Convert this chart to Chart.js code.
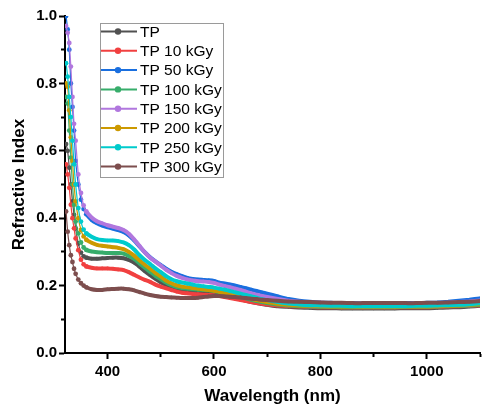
<!DOCTYPE html>
<html>
<head>
<meta charset="utf-8">
<script src="https://cdn.jsdelivr.net/npm/chart.js@4.4.1/dist/chart.umd.min.js"></script>
<style>
  html, body { margin: 0; padding: 0; background: #fff; }
  canvas { display: block; }
</style>
</head>
<body>
<canvas id="ri-chart" width="484" height="405"></canvas>
<script>
// wavelength (nm) - denser sampling on the steep absorption edge
var wavelength = [
    322, 325, 328, 331, 334, 337, 340, 345, 350, 355, 360,
    370, 380, 390, 400, 410, 420, 430, 440, 450, 460,
    470, 480, 490, 500, 510, 520, 530, 540, 550, 560,
    570, 580, 590, 600, 610, 620, 630, 640, 650, 660,
    670, 680, 690, 700,
    720, 740, 760, 780, 800, 820, 840, 860, 880, 900,
    920, 940, 960, 980, 1000, 1020, 1040, 1060, 1080, 1100
];

var labels = ["TP", "TP 10 kGy", "TP 50 kGy", "TP 100 kGy", "TP 150 kGy", "TP 200 kGy", "TP 250 kGy", "TP 300 kGy"];
var colors = ["#515151", "#F14040", "#1A6FDF", "#37AD6B", "#B177DE", "#CC9900", "#00CBCC", "#7D4E4E"];

var tp = [
    0.62, 0.60, 0.55, 0.50, 0.45, 0.41, 0.37, 0.325, 0.298, 0.287, 0.283,
    0.280, 0.280, 0.281, 0.282, 0.283, 0.283, 0.281, 0.276, 0.268, 0.256,
    0.243, 0.231, 0.220, 0.210, 0.202, 0.195, 0.190, 0.187, 0.185, 0.183,
    0.182, 0.181, 0.180, 0.178, 0.175, 0.171, 0.167, 0.163, 0.159, 0.155,
    0.151, 0.148, 0.145, 0.143,
    0.139, 0.137, 0.135, 0.134, 0.133, 0.133, 0.132, 0.132, 0.132, 0.132,
    0.132, 0.132, 0.133, 0.133, 0.133, 0.134, 0.135, 0.136, 0.138, 0.140
];
var tp10 = [
    0.56, 0.53, 0.49, 0.44, 0.40, 0.37, 0.34, 0.305, 0.277, 0.263, 0.257,
    0.253, 0.251, 0.251, 0.251, 0.250, 0.248, 0.246, 0.240, 0.232, 0.224,
    0.217, 0.211, 0.203, 0.197, 0.192, 0.187, 0.182, 0.179, 0.177, 0.175,
    0.174, 0.173, 0.172, 0.171, 0.169, 0.166, 0.163, 0.160, 0.157, 0.154,
    0.151, 0.148, 0.146, 0.144,
    0.141, 0.139, 0.138, 0.137, 0.136, 0.136, 0.135, 0.135, 0.135, 0.135,
    0.135, 0.135, 0.136, 0.136, 0.136, 0.137, 0.138, 0.139, 0.140, 0.142
];
var tp50 = [
    1.00, 0.96, 0.90, 0.80, 0.73, 0.66, 0.57, 0.50, 0.455, 0.427, 0.412,
    0.395, 0.385, 0.378, 0.373, 0.369, 0.365, 0.359, 0.349, 0.334, 0.316,
    0.299, 0.284, 0.272, 0.261, 0.250, 0.241, 0.234, 0.228, 0.223, 0.220,
    0.218, 0.217, 0.216, 0.214, 0.209, 0.206, 0.203, 0.200, 0.196, 0.192,
    0.188, 0.184, 0.180, 0.176,
    0.168, 0.160, 0.155, 0.152, 0.150, 0.149, 0.148, 0.148, 0.147, 0.147,
    0.147, 0.147, 0.148, 0.148, 0.149, 0.150, 0.152, 0.155, 0.158, 0.162
];
var tp100 = [
    0.76, 0.74, 0.66, 0.58, 0.50, 0.44, 0.39, 0.355, 0.328, 0.313, 0.306,
    0.301, 0.299, 0.298, 0.297, 0.297, 0.297, 0.295, 0.288, 0.279, 0.266,
    0.253, 0.241, 0.229, 0.219, 0.209, 0.201, 0.196, 0.193, 0.191, 0.189,
    0.188, 0.187, 0.186, 0.184, 0.181, 0.178, 0.174, 0.170, 0.166, 0.162,
    0.158, 0.154, 0.151, 0.148,
    0.144, 0.141, 0.139, 0.138, 0.137, 0.137, 0.136, 0.136, 0.136, 0.136,
    0.136, 0.136, 0.137, 0.137, 0.137, 0.138, 0.139, 0.140, 0.141, 0.143
];
var tp150 = [
    0.97, 0.95, 0.92, 0.85, 0.76, 0.68, 0.63, 0.53, 0.475, 0.438, 0.420,
    0.402, 0.391, 0.385, 0.379, 0.375, 0.371, 0.365, 0.354, 0.337, 0.318,
    0.299, 0.283, 0.271, 0.259, 0.247, 0.237, 0.229, 0.223, 0.218, 0.215,
    0.213, 0.212, 0.211, 0.208, 0.203, 0.199, 0.195, 0.191, 0.187, 0.182,
    0.177, 0.173, 0.169, 0.166,
    0.160, 0.155, 0.152, 0.150, 0.149, 0.148, 0.147, 0.147, 0.146, 0.146,
    0.146, 0.146, 0.146, 0.147, 0.147, 0.148, 0.149, 0.151, 0.153, 0.156
];
var tp200 = [
    0.80, 0.79, 0.72, 0.64, 0.57, 0.50, 0.45, 0.40, 0.365, 0.346, 0.336,
    0.327, 0.321, 0.318, 0.316, 0.314, 0.312, 0.308, 0.300, 0.289, 0.275,
    0.262, 0.250, 0.238, 0.227, 0.215, 0.207, 0.201, 0.197, 0.195, 0.193,
    0.191, 0.189, 0.187, 0.185, 0.182, 0.179, 0.176, 0.172, 0.168, 0.165,
    0.161, 0.157, 0.154, 0.151,
    0.146, 0.143, 0.141, 0.140, 0.139, 0.138, 0.138, 0.138, 0.137, 0.137,
    0.137, 0.137, 0.138, 0.138, 0.138, 0.139, 0.140, 0.141, 0.143, 0.145
];
var tp250 = [
    0.86, 0.82, 0.76, 0.70, 0.63, 0.56, 0.50, 0.43, 0.39, 0.366, 0.355,
    0.345, 0.338, 0.335, 0.334, 0.334, 0.332, 0.328, 0.320, 0.307, 0.290,
    0.276, 0.264, 0.251, 0.240, 0.228, 0.219, 0.213, 0.209, 0.206, 0.203,
    0.200, 0.198, 0.196, 0.194, 0.191, 0.188, 0.184, 0.180, 0.176, 0.172,
    0.168, 0.164, 0.160, 0.157,
    0.151, 0.147, 0.144, 0.142, 0.141, 0.140, 0.140, 0.139, 0.139, 0.139,
    0.139, 0.139, 0.139, 0.140, 0.140, 0.141, 0.142, 0.143, 0.145, 0.148
];
var tp300 = [
    0.42, 0.36, 0.32, 0.29, 0.27, 0.25, 0.235, 0.218, 0.207, 0.200, 0.195,
    0.189, 0.187, 0.187, 0.189, 0.190, 0.191, 0.191, 0.189, 0.186, 0.181,
    0.176, 0.172, 0.169, 0.167, 0.166, 0.165, 0.164, 0.163, 0.163, 0.163,
    0.164, 0.166, 0.168, 0.169, 0.169, 0.168, 0.167, 0.166, 0.165, 0.163,
    0.161, 0.160, 0.158, 0.157,
    0.155, 0.153, 0.152, 0.151, 0.150, 0.149, 0.149, 0.148, 0.148, 0.148,
    0.148, 0.148, 0.148, 0.148, 0.149, 0.149, 0.150, 0.151, 0.152, 0.154
];

var xTicks = [400, 500, 600, 700, 800, 900, 1000, 1100];
var yTicks = [0, 0.1, 0.2, 0.3, 0.4, 0.5, 0.6, 0.7, 0.8, 0.9, 1.0];

var series = [tp, tp10, tp50, tp100, tp150, tp200, tp250, tp300];

var datasets = series.map(function (values, i) {
    return {
        label: labels[i],
        data: values.map(function (v, j) { return { x: wavelength[j], y: v }; }),
        borderColor: colors[i],
        backgroundColor: colors[i],
        // later doses sit on top, like the original plot order
        order: series.length - i,
        pointRadius: function (ctx) {
            return ctx.raw && ctx.raw.x < 362 ? 2.4 : 1.8;
        },
        pointBorderWidth: 0,
        pointHoverRadius: 0,
        segment: {
            borderWidth: function (ctx) {
                return ctx.p0.parsed.x < 360 ? 1.2 : 4;
            }
        },
        borderWidth: 4,
        tension: 0.2
    };
});

// boxed legend sitting inside the plot area
var boxLegend = {
    id: "boxLegend",
    afterDraw: function (chart) {
        var c = chart.ctx;
        var x0 = 100, y0 = 23, w = 123, h = 154;
        c.save();
        c.fillStyle = "#fff";
        c.fillRect(x0, y0, w, h);
        c.strokeStyle = "#9a9a9a";
        c.lineWidth = 1;
        c.strokeRect(x0 + 0.5, y0 + 0.5, w, h);
        c.font = "15.5px Arial, 'Liberation Sans', sans-serif";
        c.textBaseline = "middle";
        chart.data.datasets.forEach(function (ds, i) {
            var y = 31.5 + i * 19.3;
            c.strokeStyle = ds.borderColor;
            c.lineWidth = 2;
            c.beginPath();
            c.moveTo(x0 + 1, y);
            c.lineTo(x0 + 37, y);
            c.stroke();
            c.fillStyle = ds.borderColor;
            c.beginPath();
            c.arc(x0 + 18, y, 3.2, 0, Math.PI * 2);
            c.fill();
            c.fillStyle = "#000";
            c.fillText(ds.label, x0 + 40, y + 1);
        });
        c.restore();
    }
};

// shorten the unlabelled ticks so they read as minor ticks
var minorTicks = {
    id: "minorTicks",
    afterDraw: function (chart) {
        var c = chart.ctx;
        var area = chart.chartArea;
        c.save();
        c.fillStyle = "#fff";
        xTicks.forEach(function (v) {
            if (v % 200 !== 0) {
                var px = chart.scales.x.getPixelForValue(v);
                c.fillRect(px - 2, area.bottom + 4, 4, 3);
            }
        });
        yTicks.forEach(function (v) {
            if (Math.round(v * 10) % 2 !== 0) {
                var py = chart.scales.y.getPixelForValue(v);
                c.fillRect(area.left - 7, py - 2, 3, 4);
            }
        });
        c.restore();
    }
};

Chart.defaults.font.family = "Arial, 'Liberation Sans', sans-serif";
Chart.defaults.color = "#000";

var ctx = document.getElementById("ri-chart").getContext("2d");

var config = {
    type: "line",
    data: { datasets: datasets },
    options: {
        responsive: false,
        animation: false,
        events: [],
        layout: { padding: { top: 16, right: 2, left: 0, bottom: 0 } },
        plugins: {
            legend: { display: false },
            tooltip: { enabled: false }
        },
        scales: {
            x: {
                type: "linear",
                min: 320,
                max: 1100,
                afterFit: function (scale) { scale.height = 52; },
                afterBuildTicks: function (scale) {
                    scale.ticks = xTicks.map(function (v) { return { value: v }; });
                },
                border: { display: true, color: "#000", width: 2 },
                grid: {
                    drawOnChartArea: false,
                    drawTicks: true,
                    tickLength: 6,
                    tickColor: "#000",
                    tickWidth: 2
                },
                ticks: {
                    padding: 4,
                    maxRotation: 0,
                    autoSkip: false,
                    font: { size: 15, weight: "bold" },
                    callback: function (v) { return v % 200 === 0 ? String(v) : ""; }
                },
                title: {
                    display: true,
                    text: "Wavelength (nm)",
                    font: { size: 17, weight: "bold", lineHeight: 1 },
                    padding: { top: 0, bottom: 0 }
                }
            },
            y: {
                min: 0,
                max: 1.0,
                afterFit: function (scale) { scale.width = 65; },
                afterBuildTicks: function (scale) {
                    scale.ticks = yTicks.map(function (v) { return { value: v }; });
                },
                border: { display: true, color: "#000", width: 2 },
                grid: {
                    drawOnChartArea: false,
                    drawTicks: true,
                    tickLength: 6,
                    tickColor: "#000",
                    tickWidth: 2
                },
                ticks: {
                    padding: 2,
                    autoSkip: false,
                    font: { size: 15, weight: "bold" },
                    callback: function (v) {
                        var k = Math.round(v * 10);
                        return k % 2 === 0 ? (k / 10).toFixed(1) : "";
                    }
                },
                title: {
                    display: true,
                    text: "Refractive Index",
                    font: { size: 17, weight: "bold", lineHeight: 1 },
                    padding: { top: 11, bottom: 0 }
                }
            }
        }
    },
    plugins: [boxLegend, minorTicks]
};

var riChart = new Chart(ctx, config);
</script>
</body>
</html>
